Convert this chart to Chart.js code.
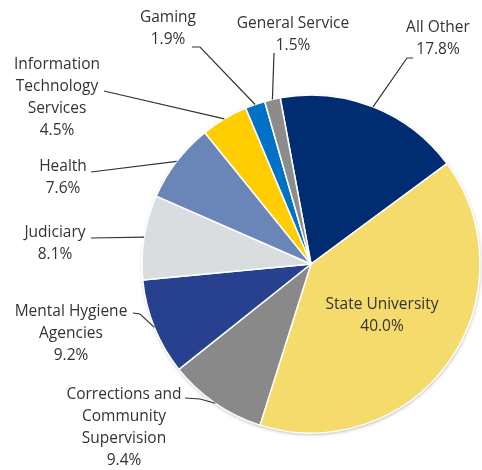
<!DOCTYPE html>
<html>
<head>
<meta charset="utf-8">
<script src="https://cdn.jsdelivr.net/npm/chart.js@4/dist/chart.umd.min.js"></script>
<style>
  html, body { margin: 0; padding: 0; background: #fff; }
  #wrap { width: 482px; height: 470px; }
</style>
</head>
<body>
<div id="wrap"><canvas id="budgetPie" width="482" height="470"></canvas></div>
<script>
var categories = ['All Other', 'State University', 'Corrections and Community Supervision',
  'Mental Hygiene Agencies', 'Judiciary', 'Health', 'Information Technology Services',
  'Gaming', 'General Service'];
var shares = [17.8, 40.0, 9.4, 9.2, 8.1, 7.6, 4.5, 1.9, 1.5];
var sliceColors = ['#002d72', '#f4db6c', '#898989', '#27418e', '#d9dde0',
  '#6a86b8', '#ffcd00', '#0072c6', '#8c8c8c'];

// how each label is broken into lines
var labelLines = [['All Other'], ['State University'],
  ['Corrections and', 'Community', 'Supervision'], ['Mental Hygiene', 'Agencies'],
  ['Judiciary'], ['Health'], ['Information', 'Technology', 'Services'],
  ['Gaming'], ['General Service']];

// where each label block sits (x = centre of text, y = middle of first line)
// and where its leader line starts; null leader = label inside the slice
var labelLayout = [
  { x: 438, y: 28, leader: [[413, 58], [407, 58]] },
  { x: 382, y: 305, leader: null },
  { x: 124, y: 395, leader: [[185, 398], [200, 399]] },
  { x: 71, y: 312, leader: [[133, 313], [140, 314]] },
  { x: 55, y: 233, leader: [[91, 238]] },
  { x: 63, y: 167, leader: [[91, 172]] },
  { x: 57, y: 65, leader: [[104, 91]] },
  { x: 168, y: 18, leader: [[192, 47], [200, 47]] },
  { x: 293, y: 24, leader: [[274, 53]] }
];

var lineGap = 21.7;

var pieLabels = {
  id: 'pieLabels',
  beforeDatasetsDraw: function (chart) {
    // soft shadow under the pie
    var arc = chart.getDatasetMeta(0).data[0];
    var ctx = chart.ctx;
    ctx.save();
    ctx.beginPath();
    ctx.arc(arc.x, arc.y, arc.outerRadius - 1, 0, Math.PI * 2);
    ctx.fillStyle = '#fff';
    ctx.shadowColor = 'rgba(0,0,0,0.45)';
    ctx.shadowBlur = 4;
    ctx.shadowOffsetX = 0.5;
    ctx.shadowOffsetY = 1.5;
    ctx.fill();
    ctx.restore();
  },
  afterDatasetsDraw: function (chart) {
    var ctx = chart.ctx;
    var meta = chart.getDatasetMeta(0);
    ctx.save();
    ctx.font = '15.5px "Open Sans", sans-serif';
    ctx.fillStyle = '#333333';
    ctx.textAlign = 'center';
    ctx.textBaseline = 'middle';
    meta.data.forEach(function (arc, i) {
      var lay = labelLayout[i];
      var lines = labelLines[i].concat([shares[i].toFixed(1) + '%']);
      lines.forEach(function (t, k) {
        ctx.fillText(t, lay.x, lay.y + k * lineGap);
      });
      if (lay.leader) {
        var mid = (arc.startAngle + arc.endAngle) / 2;
        var ex = arc.x + Math.cos(mid) * arc.outerRadius;
        var ey = arc.y + Math.sin(mid) * arc.outerRadius;
        ctx.beginPath();
        ctx.moveTo(lay.leader[0][0], lay.leader[0][1]);
        for (var k = 1; k < lay.leader.length; k++) {
          ctx.lineTo(lay.leader[k][0], lay.leader[k][1]);
        }
        ctx.lineTo(ex, ey);
        ctx.strokeStyle = '#333333';
        ctx.lineWidth = 1.2;
        ctx.stroke();
      }
    });
    ctx.restore();
  }
};

var ctx = document.getElementById('budgetPie').getContext('2d');
new Chart(ctx, {
  type: 'pie',
  data: {
    labels: categories,
    datasets: [{
      data: shares,
      backgroundColor: sliceColors,
      borderColor: '#ffffff',
      borderWidth: 1.5,
      radius: 169
    }]
  },
  options: {
    responsive: false,
    animation: false,
    rotation: -10.5,
    layout: { padding: { left: 142, right: 2, top: 95, bottom: 37 } },
    events: [],
    plugins: {
      legend: { display: false },
      tooltip: { enabled: false }
    }
  },
  plugins: [pieLabels]
});
</script>
</body>
</html>
